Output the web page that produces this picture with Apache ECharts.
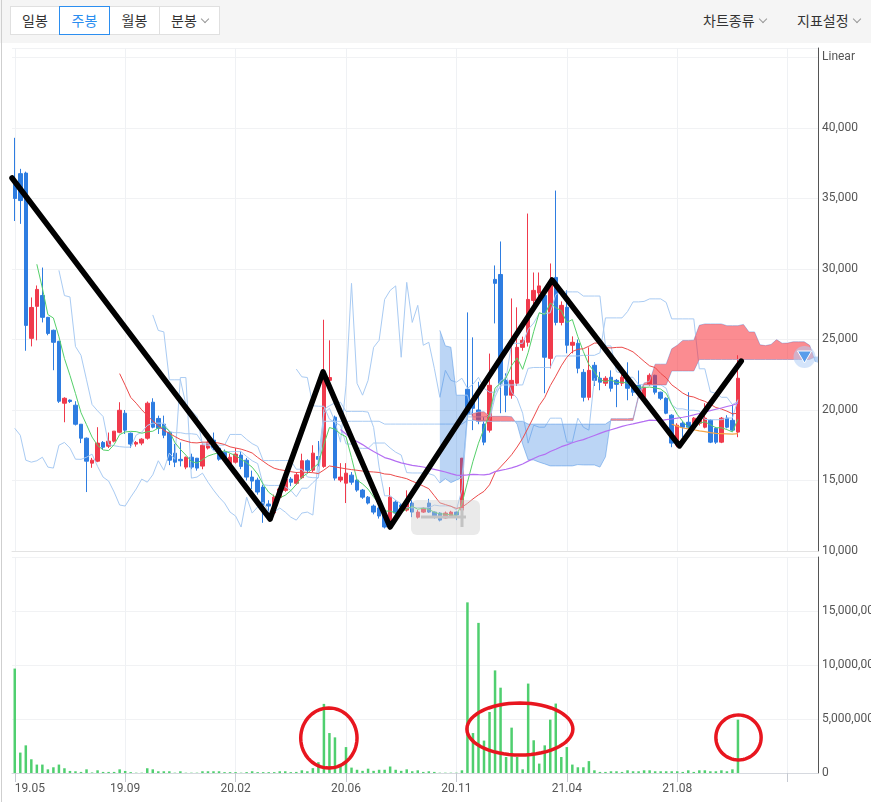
<!DOCTYPE html>
<html>
<head>
<meta charset="utf-8">
<title>주봉 차트</title>
<script src="https://cdn.jsdelivr.net/npm/echarts@6/dist/echarts.min.js"></script>
<style>
  html, body { margin: 0; padding: 0; background: #fff; }
  #wrap { position: relative; width: 871px; height: 802px; overflow: hidden; font-family: "Noto Sans CJK KR", "Noto Sans", sans-serif; }
  #myChart { position: absolute; left: 0; top: 0; width: 871px; height: 802px; }
  .toolbar { position: absolute; left: 0; top: 0; width: 871px; height: 43px; background: #f5f5f5; }
  .btns { position: absolute; left: 11px; top: 6px; display: flex; }
  .btn { box-sizing: border-box; height: 29px; line-height: 27px; border: 1px solid #e0e0e0; background: #fff;
         font-size: 14px; color: #333; text-align: center; margin-left: -1px; position: relative; }
  .btn.on { border-color: #2b8ef0; color: #2b8ef0; z-index: 1; }
  .chev { display: inline-block; width: 5px; height: 5px; border-right: 1px solid #999; border-bottom: 1px solid #999;
          transform: rotate(45deg); position: relative; top: -4px; margin-left: 5px; }
  .menu { position: absolute; top: 6px; height: 29px; line-height: 29px; font-size: 14px; color: #333; }
  .edge { position: absolute; left: 1px; top: 0; width: 1px; height: 802px; background: #cfcfcf; }
</style>
</head>
<body>
<div id="wrap">
  <div id="myChart"></div>
  <div class="toolbar">
    <div class="btns">
      <div class="btn" style="width:50px">일봉</div>
      <div class="btn on" style="width:51px">주봉</div>
      <div class="btn" style="width:51px">월봉</div>
      <div class="btn" style="width:61px">분봉<span class="chev"></span></div>
    </div>
    <div class="menu" style="left:703px">차트종류<span class="chev"></span></div>
    <div class="menu" style="left:797px">지표설정<span class="chev"></span></div>
  </div>
  <div class="edge"></div>
</div>
<script>
// 주봉 (weekly candles), 19.05 ~ 21.10
var categoryCount = 146;   // 132 candles + empty slots on the right
var tickLabels = ['19.05', '19.09', '20.02', '20.06', '20.11', '21.04', '21.08', ''];

var opens = [36000,36760,36800,25080,27350,28120,26570,25650,24870,20480,
  20700,20340,18990,18000,16230,16370,17700,17430,17790,18420,
  19770,18350,17580,17650,18000,20550,19400,18990,18420,16940,
  16500,15950,16650,16580,16020,17300,17860,17290,17000,15950,
  16300,16800,16440,15240,15030,14530,13330,12700,13800,14300,
  15100,14800,15200,16400,15730,16700,16000,22100,19490,15030,
  14810,15380,15030,14320,13820,13190,13050,12550,12050,13470,
  13260,12900,13400,12400,12760,13400,12760,12690,12340,12400,
  12760,12900,21470,20550,20000,19000,18570,29260,29610,22100,
  21050,21900,24440,24800,27770,28300,28120,23660,29400,26210,
  27280,24590,24730,22670,20900,23170,22250,21900,22320,22100,
  21900,22100,21610,21750,20900,21800,22460,21260,20830,19630,
  17500,19060,19130,19060,19060,18780,19270,18700,17720,19420,
  19270,18430];
var highs = [39300,37100,36900,27980,28830,30100,26600,25700,24900,20900,
  20750,20620,19000,18050,16600,18780,17800,18400,18500,20550,
  20000,18400,17800,18000,20600,20830,19600,19600,18500,17600,
  17700,16700,16900,16600,17700,18000,18400,17400,17200,16900,
  17300,17100,16600,15700,15200,14700,13600,14000,14600,15300,
  15240,15600,16900,16500,17500,17800,26400,24940,19600,16230,
  16230,15600,15100,14400,13900,13300,13100,12600,14530,13600,
  13400,14300,13600,12900,13100,13700,12800,12750,12800,12850,
  12800,16600,26920,25150,22000,19500,24000,30250,31950,22600,
  27910,27280,25200,33930,29750,29750,28500,30390,35560,27700,
  28480,25220,25000,22900,24440,23400,22700,22400,22810,22200,
  22500,23380,21800,22800,21700,22600,22500,21300,20900,19700,
  19060,19200,21260,19500,19600,20480,19350,18800,19500,19630,
  20400,23880];
var lows = [33400,33200,24200,24510,24940,26210,25300,22820,20500,19130,
  20500,18900,17650,14180,15900,16300,17200,17300,17700,18350,
  18300,17300,17400,17500,17900,18700,18300,18000,16090,15950,
  16000,15800,15800,15700,15800,17200,17150,16400,16300,15800,
  16200,15800,15000,14400,14000,12000,12200,12600,13700,14200,
  14600,14700,15100,15500,15600,16000,15900,21800,15000,14880,
  13400,14700,14200,13700,13300,12600,12300,11600,11980,12500,
  12900,12800,12400,12300,12700,12700,12300,12100,12300,12350,
  12190,12550,19270,18570,18990,17500,18400,26140,19770,19840,
  20800,21700,24200,24500,27500,27800,21190,22950,26000,26000,
  24020,24020,22600,20600,20690,21700,21400,21700,21300,20200,
  21700,20690,21000,20900,20800,21700,21100,20700,19700,17360,
  17360,18070,18420,18900,18900,18700,17650,17600,17650,18700,
  18500,18070];
var closes = [35000,34850,26000,27270,28550,26570,25430,24800,20620,20830,
  20600,18990,18000,16370,16440,17650,17360,17790,18500,19980,
  18570,17580,17700,17930,20480,18780,18700,18210,16440,16300,
  16400,16650,15950,15880,17500,17700,17300,16510,16500,16650,
  16870,16000,15240,14960,14180,13260,13190,13820,14400,15100,
  14880,15400,16400,15730,16940,16500,22300,22300,15170,15240,
  15520,14880,14320,13820,13400,12760,12480,11700,13820,12690,
  13120,13470,12760,12760,13050,12760,12400,12190,12690,12760,
  12550,16580,19770,20120,19200,17720,21750,28980,21890,21050,
  22100,24440,24940,27840,28480,28800,23740,29050,26210,27420,
  24590,24800,22960,20900,22810,22100,21970,22250,21540,21820,
  22320,21540,21260,21260,21610,22460,21260,20830,19770,17650,
  18920,18780,18780,19420,19420,19420,17720,17720,19420,18780,
  18570,22250];
var volumes = [9670000,1890000,2560000,1270000,780000,780000,340000,530000,780000,440000,
  190000,160000,100000,340000,50000,250000,100000,100000,100000,340000,
  190000,80000,30000,30000,440000,340000,160000,160000,160000,30000,
  160000,30000,30000,30000,160000,160000,160000,160000,80000,80000,
  80000,30000,80000,160000,80000,80000,80000,80000,160000,160000,
  80000,100000,250000,160000,450000,1000000,6400000,3700000,3300000,800000,
  2400000,500000,300000,200000,400000,200000,300000,300000,600000,300000,
  200000,340000,160000,250000,100000,160000,100000,30000,30000,30000,
  30000,250000,15800000,3700000,13900000,3000000,5650000,9500000,7900000,1480000,
  4200000,1480000,340000,8280000,3030000,870000,2560000,4940000,6430000,1480000,
  2400000,780000,530000,530000,1100000,250000,100000,100000,160000,160000,
  100000,250000,160000,160000,250000,250000,160000,160000,160000,160000,
  160000,100000,250000,100000,250000,250000,160000,160000,250000,160000,
  340000,4940000];

// 손으로 그린 표시 (candle index, price) / (index, volume, rx, ry)
var zigzag = [[-0.5, 36450], [46.25, 12270], [55.84, 22700], [67.98, 11700],
  [97.33, 29220], [120.4, 17450], [131.6, 23470]];
var circles = [[56.9, 3240000, 5.1, 2780000], [91.5, 4070000, 9.6, 2410000], [131.1, 3290000, 4.1, 2080000]];

var UP = '#f03a4c', DOWN = '#2e7de1';
var ICHI = '#a9cbf3';

function comma(v) { return String(v).replace(/\B(?=(\d{3})+(?!\d))/g, ','); }

var cats = [];
for (var i = 0; i < categoryCount; i++) cats.push(String(i));

function pad(arr) {
  var out = arr.slice(0, categoryCount);
  while (out.length < categoryCount) out.push('-');
  return out;
}

// 이동평균
function ma(n) {
  return closes.map(function (c, i) {
    if (i < n - 1) return '-';
    var s = 0;
    for (var k = i - n + 1; k <= i; k++) s += closes[k];
    return Math.round(s / n);
  });
}
function hh(i, n) { return Math.max.apply(null, highs.slice(i - n + 1, i + 1)); }
function ll(i, n) { return Math.min.apply(null, lows.slice(i - n + 1, i + 1)); }

// 일목균형표
var shift = 26;
var tenkan = [], kijun = [], spanA = [], spanB = [], chikou = [];
for (i = 0; i < closes.length + shift; i++) { spanA.push('-'); spanB.push('-'); }
for (i = 0; i < closes.length; i++) {
  tenkan.push(i >= 8 ? (hh(i, 9) + ll(i, 9)) / 2 : '-');
  kijun.push(i >= 25 ? (hh(i, 26) + ll(i, 26)) / 2 : '-');
  if (i >= 25) spanA[i + shift] = (tenkan[i] + kijun[i]) / 2;
  if (i >= 51) spanB[i + shift] = (hh(i, 52) + ll(i, 52)) / 2;
  chikou.push(i + shift < closes.length ? closes[i + shift] : '-');
}

function cloudRuns() {
  var runs = [], cur = null;
  for (var i = 0; i < spanA.length; i++) {
    var a = spanA[i], b = spanB[i];
    if (a === '-' || b === '-') continue;
    var up = a >= b;
    if (cur && up !== cur.up) {
      var pa = spanA[i - 1], pb = spanB[i - 1];
      var t = (pa - pb) / ((pa - pb) - (a - b));
      var xm = i - 1 + t, ym = pa + (a - pa) * t;
      cur.top.push([xm, ym]); cur.bot.push([xm, ym]);
      runs.push(cur);
      cur = { up: up, top: [[xm, ym]], bot: [[xm, ym]] };
    }
    if (!cur) cur = { up: up, top: [], bot: [] };
    cur.top.push([i, a]); cur.bot.push([i, b]);
  }
  if (cur) runs.push(cur);
  return runs;
}

var candleData = opens.map(function (o, i) { return [o, closes[i], lows[i], highs[i]]; });

function line(name, data, color, width, z) {
  return { name: name, type: 'line', xAxisIndex: 0, yAxisIndex: 0, data: pad(data), symbol: 'none',
    silent: true, z: z, lineStyle: { color: color, width: width } };
}

var myChart = echarts.init(document.getElementById('myChart'));

var splitX = { show: true, interval: 19, alignWithLabel: true, lineStyle: { color: '#eff1f4' } };

myChart.setOption({
  animation: false,
  backgroundColor: '#fff',
  textStyle: { fontFamily: 'Roboto, "Noto Sans", sans-serif' },
  grid: [
    { left: 12, right: 53, top: 48, height: 503, outerBoundsMode: 'none' },
    { left: 12, right: 53, top: 557, height: 216, outerBoundsMode: 'none' }
  ],
  xAxis: [
    { type: 'category', gridIndex: 0, data: cats, boundaryGap: true,
      axisLine: { show: true, onZero: false, lineStyle: { color: '#e3e3e3' } },
      axisTick: { show: false }, axisLabel: { show: false }, splitLine: splitX },
    { type: 'category', gridIndex: 1, data: cats, boundaryGap: true,
      axisLine: { show: true, onZero: false, lineStyle: { color: '#d6d9df' } },
      axisTick: { show: true, interval: 19, alignWithLabel: true, length: 9, lineStyle: { color: '#c6cad2' } },
      axisLabel: { interval: 19, color: '#555', fontSize: 12, margin: 10, alignMinLabel: 'left',
        formatter: function (v, idx) { return tickLabels[idx / 20] || ''; } },
      splitLine: splitX },
    { type: 'value', gridIndex: 0, min: -0.5, max: categoryCount - 0.5, show: false },
    { type: 'value', gridIndex: 1, min: -0.5, max: categoryCount - 0.5, show: false }
  ],
  yAxis: [
    { type: 'value', gridIndex: 0, position: 'right', min: 10000, max: 45670, interval: 5000,
      axisLine: { show: true, onZero: false, lineStyle: { color: '#555' } }, axisTick: { show: false },
      axisLabel: { color: '#555', fontSize: 12, margin: 4,
        formatter: function (v) { if (v % 5000) return ''; return v === 45000 ? 'Linear' : comma(v); } },
      splitLine: { lineStyle: { color: '#f1f2f4' } } },
    { type: 'value', gridIndex: 1, position: 'right', min: 0, max: 20000000, interval: 5000000,
      axisLine: { show: true, onZero: false, lineStyle: { color: '#555' } }, axisTick: { show: false },
      axisLabel: { color: '#555', fontSize: 12, margin: 4,
        formatter: function (v) { return v === 20000000 ? '' : comma(v); } },
      splitLine: { lineStyle: { color: '#f1f2f4' } } }
  ],
  series: [
    { name: '주봉', type: 'candlestick', xAxisIndex: 0, yAxisIndex: 0, data: candleData, barWidth: 4, z: 2,
      itemStyle: { color: UP, color0: DOWN, borderColor: UP, borderColor0: DOWN, borderWidth: 1 } },
    line('전환선', tenkan, ICHI, 1, 3),
    line('기준선', kijun, ICHI, 1, 3),
    line('선행스팬1', spanA, ICHI, 1, 3),
    line('선행스팬2', spanB, ICHI, 1, 3),
    line('후행스팬', chikou, ICHI, 1, 3),
    { name: '구름', type: 'custom', xAxisIndex: 2, yAxisIndex: 0, clip: true, silent: true, z: 5,
      data: [[0, 20000]],
      renderItem: function (params, api) {
        return { type: 'group', children: cloudRuns().map(function (r) {
          var pts = r.top.concat(r.bot.slice().reverse()).map(function (p) { return api.coord(p); });
          return { type: 'polygon', shape: { points: pts },
            style: { fill: r.up ? 'rgba(248,45,55,0.55)' : 'rgba(45,125,224,0.32)' } };
        }) };
      } },
    line('5', ma(5), '#55d06a', 1, 6),
    line('20', ma(20), '#ec4a4a', 1, 6),
    line('60', ma(60), '#b46ef2', 1.2, 6),
    line('120', ma(120), '#f7a445', 1.2, 6),
    { name: '거래량', type: 'bar', xAxisIndex: 1, yAxisIndex: 1, data: pad(volumes), barWidth: 2.5,
      itemStyle: { color: '#4fcf6f' } },
    { name: 'zigzag', type: 'line', xAxisIndex: 2, yAxisIndex: 0, data: zigzag, symbol: 'none', clip: false,
      silent: true, z: 20, lineStyle: { color: '#000', width: 5.5, cap: 'round', join: 'round' } },
    { name: 'circles', type: 'custom', xAxisIndex: 3, yAxisIndex: 1, silent: true, z: 20, data: circles,
      renderItem: function (params, api) {
        var c = api.coord([api.value(0), api.value(1)]);
        var s = api.size([api.value(2), api.value(3)]);
        var pts = [];
        for (var k = 0; k < 60; k++) {
          var a = k / 60 * Math.PI * 2;
          pts.push([c[0] + s[0] * Math.cos(a), c[1] + s[1] * Math.sin(a)]);
        }
        return { type: 'polygon', shape: { points: pts },
          style: { fill: 'none', stroke: '#e8161f', lineWidth: 3.5 } };
      } }
  ],
  graphic: [
    // 좌측 하단 반투명 박스
    { type: 'rect', z: 50, shape: { x: 411, y: 500, width: 69, height: 35, r: 6 },
      style: { fill: 'rgba(205,205,205,0.42)' } },
    { type: 'line', z: 51, shape: { x1: 421, y1: 517, x2: 466, y2: 517 }, style: { stroke: '#c3c3c3', lineWidth: 3 } },
    { type: 'line', z: 51, shape: { x1: 462, y1: 508, x2: 462, y2: 527 }, style: { stroke: '#c3c3c3', lineWidth: 3 } },
    // 현재가 마커
    { type: 'circle', z: 50, shape: { cx: 804.5, cy: 357, r: 11 }, style: { fill: 'rgba(176,206,245,0.55)' } },
    { type: 'polygon', z: 51, shape: { points: [[797.5, 351], [811.5, 351], [804.5, 363]] },
      style: { fill: '#5a9deb', stroke: '#fff', lineWidth: 1 } }
  ]
});
</script>
</body>
</html>
